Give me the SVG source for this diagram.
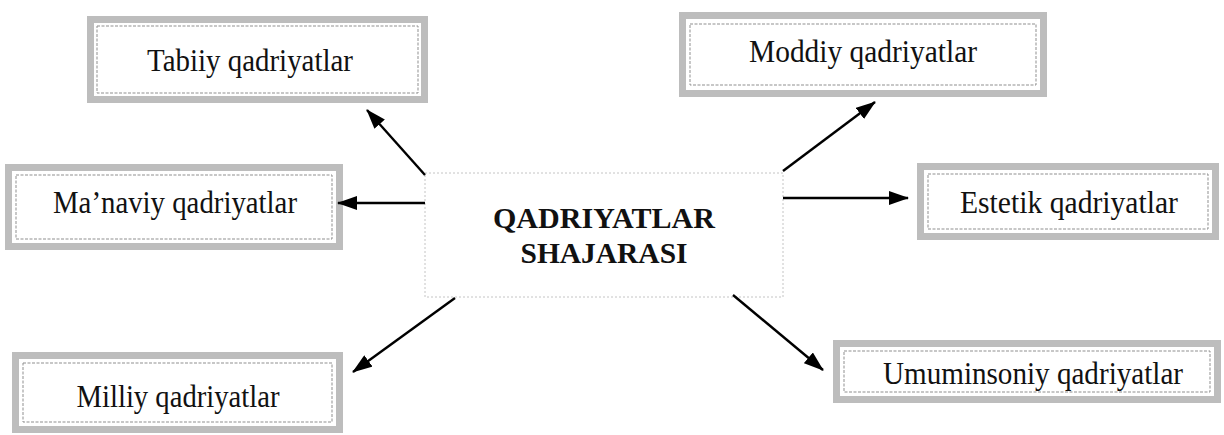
<svg xmlns="http://www.w3.org/2000/svg" width="1224" height="435" viewBox="0 0 1224 435">
  <style>
    .band { fill: #ffffff; stroke: #bdbdbd; stroke-width: 7; }
    .inner { fill: none; stroke: #8f8f8f; stroke-width: 1; stroke-dasharray: 3 1.5; }
    .lbl { font-family: "Liberation Serif", "Times New Roman", serif; font-size: 31px; fill: #111; text-anchor: middle; }
    .title { font-family: "Liberation Serif", "Times New Roman", serif; font-size: 30px; font-weight: bold; fill: #111; text-anchor: middle; }
    .center { fill: #ffffff; stroke: #c4c4c4; stroke-width: 1; stroke-dasharray: 2 2; }
    .conn { stroke: #000; stroke-width: 2.4; fill: none; marker-end: url(#ah); }
  </style>
  <defs>
    <marker id="ah" markerWidth="20" markerHeight="14" refX="19" refY="7" orient="auto" markerUnits="userSpaceOnUse">
      <path d="M0,0 L20,7 L0,14 Z" fill="#000"/>
    </marker>
  </defs>
  <rect width="1224" height="435" fill="#ffffff"/>

  <g id="center">
    <rect class="center" x="425" y="173" width="358" height="124"/>
    <text class="title" x="604" y="228" textLength="222" lengthAdjust="spacingAndGlyphs">QADRIYATLAR</text>
    <text class="title" x="604" y="263" textLength="167" lengthAdjust="spacingAndGlyphs">SHAJARASI</text>
  </g>

  <g id="tabiiy">
    <rect class="band" x="90.5" y="19.5" width="334" height="80"/>
    <rect class="inner" x="97" y="26" width="321" height="67"/>
    <text class="lbl" x="250" y="71" textLength="206" lengthAdjust="spacingAndGlyphs">Tabiiy qadriyatlar</text>
  </g>

  <g id="moddiy">
    <rect class="band" x="682.5" y="15.5" width="361" height="78"/>
    <rect class="inner" x="690" y="24" width="346" height="61"/>
    <text class="lbl" x="863" y="62" textLength="228" lengthAdjust="spacingAndGlyphs">Moddiy qadriyatlar</text>
  </g>

  <g id="manaviy">
    <rect class="band" x="8.5" y="167.5" width="331" height="79"/>
    <rect class="inner" x="16" y="175" width="316" height="64"/>
    <text class="lbl" x="175" y="213" textLength="244" lengthAdjust="spacingAndGlyphs">Ma’naviy qadriyatlar</text>
  </g>

  <g id="estetik">
    <rect class="band" x="920.5" y="166.5" width="295" height="70"/>
    <rect class="inner" x="928" y="174" width="280" height="55"/>
    <text class="lbl" x="1069" y="213" textLength="218" lengthAdjust="spacingAndGlyphs">Estetik qadriyatlar</text>
  </g>

  <g id="milliy">
    <rect class="band" x="15.5" y="355.5" width="324" height="74"/>
    <rect class="inner" x="23" y="363" width="309" height="59"/>
    <text class="lbl" x="178" y="407" textLength="203" lengthAdjust="spacingAndGlyphs">Milliy qadriyatlar</text>
  </g>

  <g id="umuminsoniy">
    <rect class="band" x="836.5" y="343.5" width="381" height="56"/>
    <rect class="inner" x="844" y="351" width="366" height="41"/>
    <text class="lbl" x="1033" y="384" textLength="300" lengthAdjust="spacingAndGlyphs">Umuminsoniy qadriyatlar</text>
  </g>

  <g id="connectors">
    <line class="conn" x1="425" y1="175" x2="367" y2="110"/>
    <line class="conn" x1="425" y1="203" x2="338" y2="203"/>
    <line class="conn" x1="455" y1="298" x2="353" y2="372"/>
    <line class="conn" x1="783" y1="171" x2="875" y2="102"/>
    <line class="conn" x1="783" y1="198" x2="908" y2="198"/>
    <line class="conn" x1="733" y1="295" x2="823" y2="370"/>
  </g>
</svg>
